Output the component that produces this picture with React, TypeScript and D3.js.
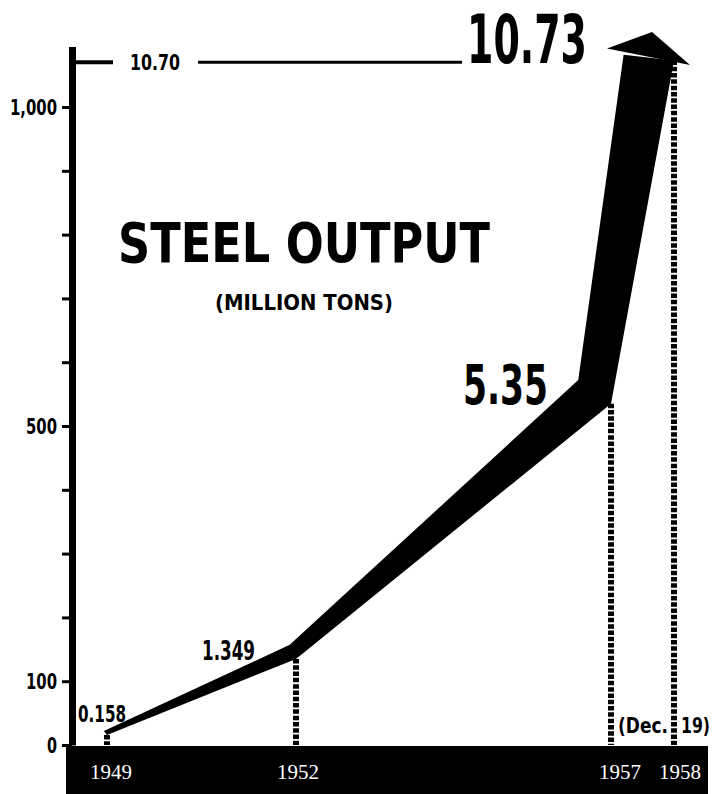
import React, { useEffect, useRef } from 'react';
import * as d3 from 'd3';

// steel output, in units of 10,000 tons (axis scale)
const years = [1949, 1952, 1957, 1958];
const output = [15.8, 134.9, 535, 1073];
const outputLabels = ['0.158', '1.349', '5.35', '10.73'];
const yearLabels = ['1949', '1952', '1957', '1958'];

// upper edge of the widening black band
const bandTopYears = [1948.95, 1951.9, 1956.48, 1957.2];
const bandTopValues = [22, 157, 572, 1082];

const yTicks = [0, 100, 200, 300, 400, 500, 600, 700, 800, 900, 1000];
const yLabeled = [0, 100, 500, 1000];
const prevTarget = 1070;
const prevTargetLabel = '10.70';

const W = 715;
const H = 794;
const BOLD = "'Liberation Sans Narrow', 'DejaVu Sans Condensed', 'Arial Narrow', sans-serif";

const App: React.FC = () => {
  const ref = useRef<SVGSVGElement>(null);

  useEffect(() => {
    if (!ref.current) return;
    const svg = d3.select(ref.current);
    svg.selectAll('*').remove();

    const x = d3.scaleLinear().domain([1949, 1958]).range([107, 674]);
    const y = d3.scaleLinear().domain([0, 1095]).range([745, 46.4]);

    svg.append('rect').attr('width', W).attr('height', H).attr('fill', '#fff');

    // dotted drop lines
    svg.selectAll('line.drop')
      .data(years)
      .enter()
      .append('line')
      .attr('class', 'drop')
      .attr('x1', d => x(d))
      .attr('x2', d => x(d))
      .attr('y1', (d, i) => y(output[i]))
      .attr('y2', y(0))
      .attr('stroke', '#000')
      .attr('stroke-width', 6)
      .attr('stroke-dasharray', '4.5,1.8');

    // band
    const top = bandTopYears.map((d, i) => [x(d), y(bandTopValues[i])] as [number, number]);
    const bottom = years.map((d, i) => [x(d), y(output[i])] as [number, number]).reverse();
    svg.append('path')
      .attr('d', d3.line().curve(d3.curveLinearClosed)([...top, ...bottom]))
      .attr('fill', '#000');

    // arrow head
    const ex = x(1958), ey = y(output[3]);
    svg.append('path')
      .attr('d', `M${ex - 67},${ey - 12} L${ex - 22},${ey - 28.5} L${ex + 16},${ey + 4.5} Z`)
      .attr('fill', '#000');

    // bottom band with years
    svg.append('rect')
      .attr('x', 66).attr('y', y(0) + 1)
      .attr('width', 642).attr('height', H - y(0))
      .attr('fill', '#000');

    const yearOffsets = [4, 2, 9, 6];
    svg.selectAll('text.year')
      .data(years)
      .enter()
      .append('text')
      .attr('class', 'year')
      .attr('x', (d, i) => x(d) + yearOffsets[i])
      .attr('y', 779)
      .attr('text-anchor', 'middle')
      .attr('fill', '#fff')
      .style('font-family', "'Liberation Serif', 'DejaVu Serif', serif")
      .style('font-size', '21px')
      .text((d, i) => yearLabels[i]);

    // y axis
    const axis = svg.append('g')
      .attr('transform', `translate(${72},0)`)
      .call(
        d3.axisLeft(y)
          .tickValues(yTicks)
          .tickSize(10)
          .tickSizeOuter(0)
          .tickPadding(5)
          .tickFormat(d => (yLabeled.includes(d as number) ? d3.format(',')(d as number) : ''))
      );
    axis.select('.domain').attr('stroke', '#000').attr('stroke-width', 7);
    axis.selectAll('.tick line').attr('stroke', '#000').attr('stroke-width', 3);
    axis.selectAll<SVGTextElement, number>('.tick text')
      .attr('fill', '#000')
      .attr('textLength', d => (d === 1000 ? 47 : d === 0 ? 10 : 31))
      .attr('lengthAdjust', 'spacingAndGlyphs')
      .style('font-family', BOLD)
      .style('font-weight', 'bold')
      .style('font-size', '22px');

    // previous target line 10.70
    const ty = y(prevTarget);
    svg.append('line').attr('x1', 74).attr('x2', 113).attr('y1', ty).attr('y2', ty)
      .attr('stroke', '#000').attr('stroke-width', 4);
    svg.append('line').attr('x1', 198).attr('x2', 462).attr('y1', ty).attr('y2', ty)
      .attr('stroke', '#000').attr('stroke-width', 3);
    svg.append('text')
      .attr('x', 130).attr('y', ty + 8)
      .attr('textLength', 50).attr('lengthAdjust', 'spacingAndGlyphs')
      .style('font-family', BOLD).style('font-weight', 'bold').style('font-size', '22px')
      .text(prevTargetLabel);

    // value labels
    const lbl = [
      { dx: -29, dy: -13, size: 23, len: 48, anchor: 'start' },
      { dx: -41, dy: 1, size: 26, len: 53, anchor: 'end' },
      { dx: -63, dy: 0, size: 56, len: 85, anchor: 'end' },
      { dx: -207, dy: 3, size: 68, len: 120, anchor: 'start' },
    ];
    svg.selectAll('text.val')
      .data(years)
      .enter()
      .append('text')
      .attr('class', 'val')
      .attr('x', (d, i) => x(d) + lbl[i].dx)
      .attr('y', (d, i) => y(output[i]) + lbl[i].dy)
      .attr('text-anchor', (d, i) => lbl[i].anchor)
      .attr('textLength', (d, i) => lbl[i].len)
      .attr('lengthAdjust', 'spacingAndGlyphs')
      .style('font-family', BOLD)
      .style('font-weight', 'bold')
      .style('font-size', (d, i) => `${lbl[i].size}px`)
      .text((d, i) => outputLabels[i]);

    // "(Dec. 19)" split around the 1958 drop line
    const dx58 = x(1958);
    svg.append('text')
      .attr('x', dx58 - 6).attr('y', 733)
      .attr('text-anchor', 'end')
      .attr('textLength', 50).attr('lengthAdjust', 'spacingAndGlyphs')
      .style('font-family', BOLD).style('font-weight', 'bold').style('font-size', '22px')
      .text('(Dec.');
    svg.append('text')
      .attr('x', dx58 + 7).attr('y', 733)
      .attr('textLength', 29).attr('lengthAdjust', 'spacingAndGlyphs')
      .style('font-family', BOLD).style('font-weight', 'bold').style('font-size', '22px')
      .text('19)');

    // title
    svg.append('text')
      .attr('x', 118).attr('y', 262)
      .attr('textLength', 372).attr('lengthAdjust', 'spacingAndGlyphs')
      .style('font-family', BOLD).style('font-weight', 'bold').style('font-size', '56px')
      .text('STEEL  OUTPUT');
    svg.append('text')
      .attr('x', 215).attr('y', 310)
      .attr('textLength', 178).attr('lengthAdjust', 'spacingAndGlyphs')
      .style('font-family', BOLD).style('font-weight', 'bold').style('font-size', '22px')
      .text('(MILLION  TONS)');
  }, []);

  return (
    <svg ref={ref} width={W} height={H} style={{ position: 'absolute', left: 0, top: 0 }}></svg>
  );
};

export default App;
